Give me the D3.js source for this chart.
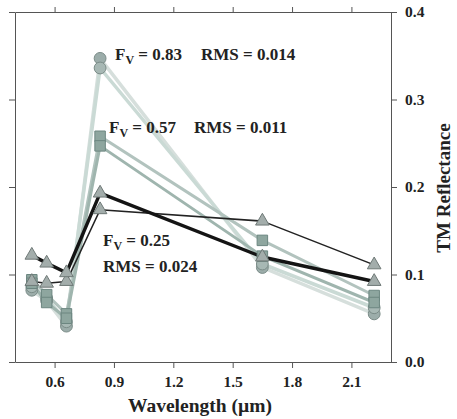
<!DOCTYPE html>
<html>
<head>
<meta charset="utf-8">
<script src="https://cdn.jsdelivr.net/npm/d3@7"></script>
<style>
  html, body { margin: 0; padding: 0; background: #fff; }
  svg text { font-family: "Liberation Serif", "Times New Roman", serif; font-weight: bold; fill: #222; }
</style>
</head>
<body>
<svg id="chart" width="457" height="419"></svg>
<script>
// Landsat TM band centres (µm)
const bands = [0.485, 0.56, 0.66, 0.83, 1.65, 2.215];

// Reflectance spectra: measured and modelled for three vegetation fractions
const fv083a = [0.082, 0.070, 0.041, 0.347, 0.108, 0.055];
const fv083b = [0.086, 0.073, 0.046, 0.336, 0.112, 0.062];
const fv057a = [0.094, 0.077, 0.055, 0.258, 0.139, 0.076];
const fv057b = [0.090, 0.068, 0.050, 0.247, 0.121, 0.068];
const fv025a = [0.122, 0.113, 0.102, 0.193, 0.120, 0.092];
const fv025b = [0.092, 0.090, 0.092, 0.174, 0.161, 0.111];

const xTicks = [0.6, 0.9, 1.2, 1.5, 1.8, 2.1];
const yTicks = [0.0, 0.1, 0.2, 0.3, 0.4];

const labels = [
  { fv: "0.83", rms: "0.014" },
  { fv: "0.57", rms: "0.011" },
  { fv: "0.25", rms: "0.024" }
];

const svg = d3.select("#chart");
const plotL = 15, plotR = 391, plotT = 12, plotB = 362;

const x = d3.scaleLinear().domain([0.4, 2.3]).range([plotL, plotR]);
const y = d3.scaleLinear().domain([0, 0.4]).range([plotB, plotT]);

// Axes on all four sides; labels only on bottom and right
const axFont = g => g.selectAll("text").style("font-size", "15.5px").attr("fill", "#222");
const axStroke = g => { g.select(".domain").attr("stroke", "#555"); g.selectAll(".tick line").attr("stroke", "#555"); };

svg.append("g").attr("transform", `translate(0,${plotB})`)
  .call(d3.axisBottom(x).tickValues(xTicks).tickFormat(d3.format(".1f")).tickSize(6).tickSizeOuter(0).tickPadding(8))
  .call(axFont).call(axStroke);
svg.append("g").attr("transform", `translate(0,${plotT})`)
  .call(d3.axisTop(x).tickValues(xTicks).tickFormat("").tickSize(5).tickSizeOuter(0))
  .call(axStroke);
svg.append("g").attr("transform", `translate(${plotR},0)`)
  .call(d3.axisRight(y).tickValues(yTicks).tickFormat(d3.format(".1f")).tickSize(6).tickSizeOuter(0).tickPadding(8))
  .call(axFont).call(axStroke);
svg.append("g").attr("transform", `translate(${plotL},0)`)
  .call(d3.axisLeft(y).tickValues(yTicks).tickFormat("").tickSize(6).tickSizeOuter(0))
  .call(axStroke);

const line = d3.line().x((d, i) => x(bands[i])).y(d => y(d));

const series = [
  { v: fv083a, stroke: "#d6dfdc", width: 3.5, shape: d3.symbolCircle, size: 110, fill: "#9cadaa", edge: "#7b8c88" },
  { v: fv083b, stroke: "#cadad5", width: 3.5, shape: d3.symbolCircle, size: 110, fill: "#a7b8b4", edge: "#7b8c88" },
  { v: fv057a, stroke: "#b2c3be", width: 3, shape: d3.symbolSquare, size: 110, fill: "#8ea69f", edge: "#6c8680" },
  { v: fv057b, stroke: "#9fb5ae", width: 3, shape: d3.symbolSquare, size: 110, fill: "#8ea69f", edge: "#6c8680" },
  { v: fv025b, stroke: "#222", width: 1.6, shape: d3.symbolTriangle, size: 80, fill: "#a3adab", edge: "#6f7977" },
  { v: fv025a, stroke: "#141414", width: 3.4, shape: d3.symbolTriangle, size: 80, fill: "#a3adab", edge: "#6f7977" }
];

series.forEach(s => {
  svg.append("path").datum(s.v).attr("d", line)
    .attr("fill", "none").attr("stroke", s.stroke).attr("stroke-width", s.width)
    .attr("stroke-linejoin", "round");
});
series.forEach(s => {
  svg.append("g").selectAll("path").data(s.v).join("path")
    .attr("transform", (d, i) => `translate(${x(bands[i])},${y(d)})`)
    .attr("d", d3.symbol().type(s.shape).size(s.size))
    .attr("fill", s.fill).attr("stroke", s.edge).attr("stroke-width", 1);
});

// Annotations
function fvLabel(g, xPos, yPos, fv) {
  const t = g.append("text").attr("x", xPos).attr("y", yPos).style("font-size", "17px");
  t.append("tspan").text("F");
  t.append("tspan").attr("dy", 4).style("font-size", "12px").text("V");
  t.append("tspan").attr("dy", -4).text(" = " + fv);
}
const ann = svg.append("g");
fvLabel(ann, 115, 60, labels[0].fv);
ann.append("text").attr("x", 201).attr("y", 60).style("font-size", "17px").text("RMS = " + labels[0].rms);
fvLabel(ann, 109, 133, labels[1].fv);
ann.append("text").attr("x", 194).attr("y", 133).style("font-size", "17px").text("RMS = " + labels[1].rms);
fvLabel(ann, 103, 246, labels[2].fv);
ann.append("text").attr("x", 103).attr("y", 272).style("font-size", "17px").text("RMS = " + labels[2].rms);

// Axis titles
svg.append("text").attr("x", 200).attr("y", 412).attr("text-anchor", "middle")
  .style("font-size", "19.5px").text("Wavelength (\u00b5m)");
svg.append("text").attr("transform", "translate(450,188) rotate(-90)").attr("text-anchor", "middle")
  .style("font-size", "19px").text("TM Reflectance");
</script>
</body>
</html>
